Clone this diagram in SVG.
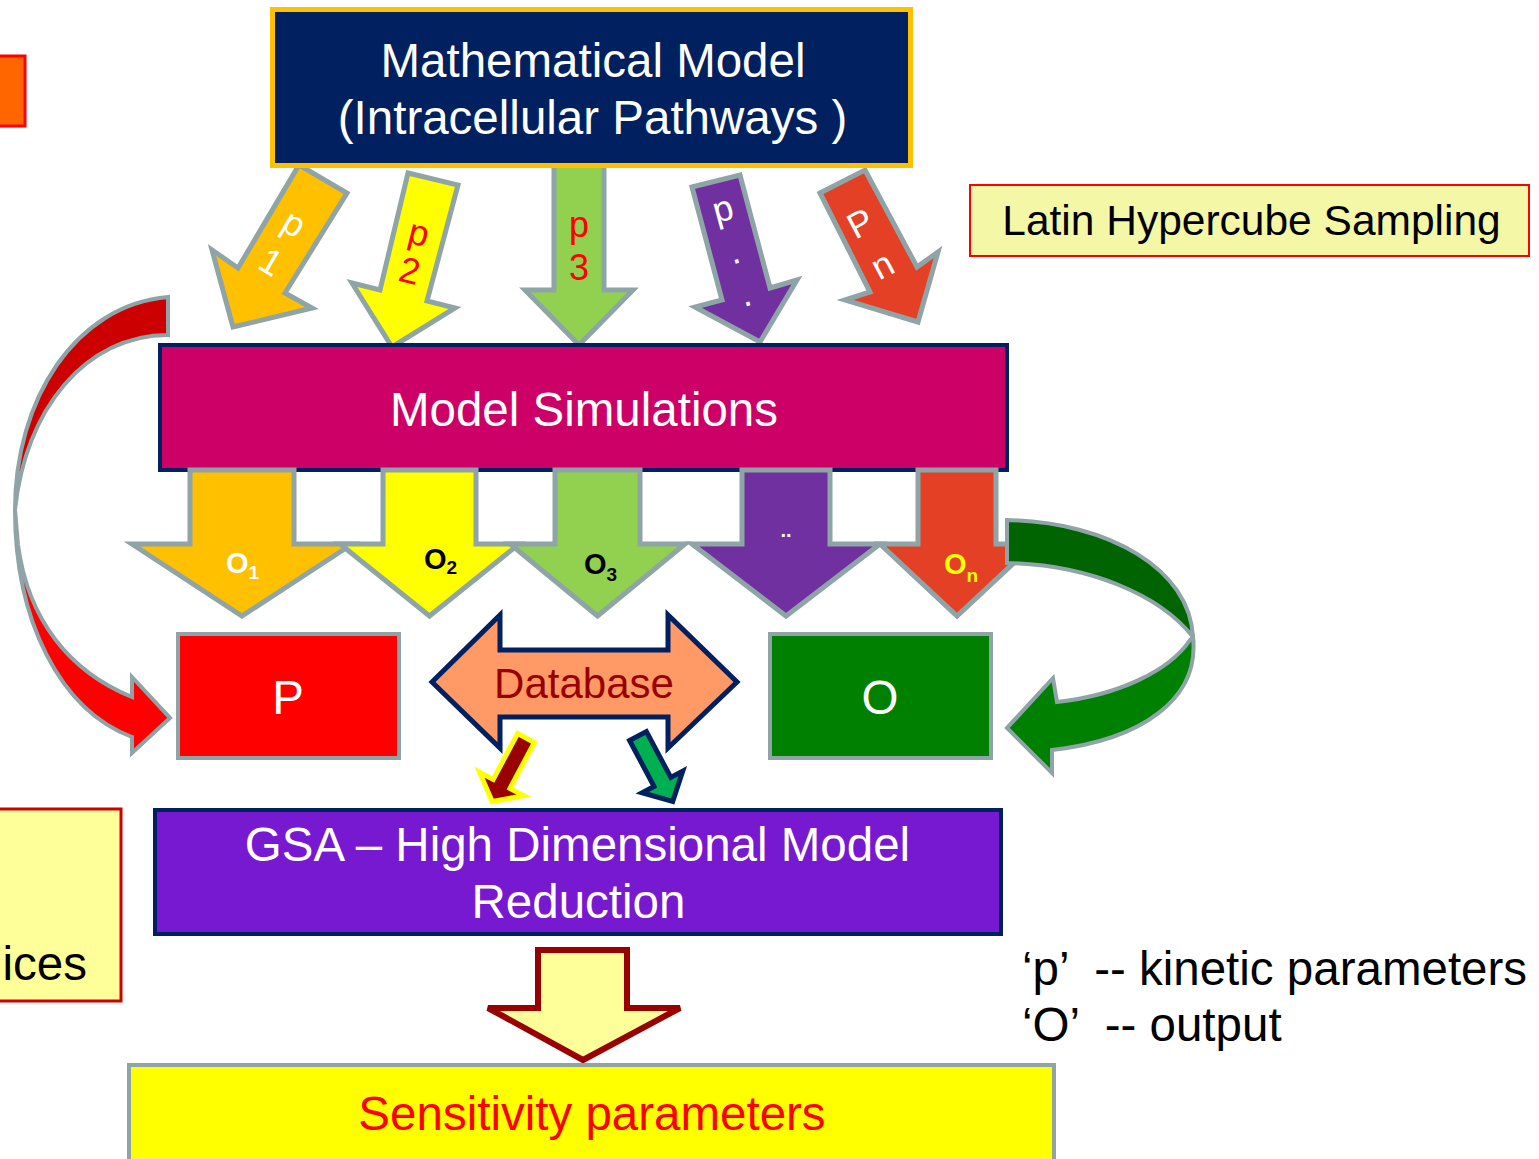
<svg xmlns="http://www.w3.org/2000/svg" width="1539" height="1159" viewBox="0 0 1539 1159">
<style>
text{font-family:"Liberation Sans",Arial,sans-serif}
.big{font-size:47.5px}
.lbl{font-size:36px}
.ol{font-size:29px;font-weight:bold}
.gs{stroke:#8EA4A6;stroke-width:5;stroke-linejoin:miter}
.gs4{stroke:#8EA4A6;stroke-width:4}
.nv{stroke:#002060;stroke-width:4}
</style>
<rect width="1539" height="1159" fill="#fff"/>

<g id="connectors">
  <polygon id="arrow-p1" class="gs" fill="#FFC000" points="299,165 347,193 285,293 312,308 233,327 212,250 238,268"/>
  <polygon id="arrow-p2" class="gs" fill="#FFFF00" points="408,173 458,185 427,301 455,308 392,347 352,283 380,290"/>
  <polygon id="arrow-p3" class="gs" fill="#92D050" points="554,165 604,165 604,290 633,290 579,345 525,290 554,290"/>
  <polygon id="arrow-pdots" class="gs" fill="#7030A0" points="692,187 740,175 770,288 797,280 760,342 695,307 722,300"/>
  <polygon id="arrow-pn" class="gs" fill="#E34026" points="820,193 865,170 917,267 938,252 918,322 845,300 870,292"/>
</g>

<g id="node-math-model">
  <rect x="272.5" y="9.5" width="638" height="156" fill="#002060" stroke="#FFC000" stroke-width="5"/>
  <text class="big" x="593" y="77" text-anchor="middle" fill="#fff">Mathematical Model</text>
  <text class="big" x="592.5" y="134" text-anchor="middle" fill="#fff">(Intracellular Pathways )</text>
</g>

<g id="labels-inputs">
  <text class="lbl" fill="#fff" text-anchor="middle" transform="translate(292,227) rotate(31)"><tspan x="0" y="8">p</tspan><tspan x="0" y="53">1</tspan></text>
  <text class="lbl" fill="#FF0000" text-anchor="middle" transform="translate(418,237) rotate(14)"><tspan x="0" y="8">p</tspan><tspan x="0" y="47">2</tspan></text>
  <text class="lbl" fill="#FF0000" text-anchor="middle"><tspan x="579" y="237">p</tspan><tspan x="579" y="280">3</tspan></text>
  <text class="lbl" fill="#fff" text-anchor="middle" transform="translate(723,210) rotate(-15)"><tspan x="0" y="11">p</tspan><tspan x="0" y="55">.</tspan><tspan x="0" y="99">.</tspan></text>
  <text class="lbl" fill="#fff" text-anchor="middle" transform="translate(860,223) rotate(-28)"><tspan x="0" y="13">P</tspan><tspan x="0" y="60">n</tspan></text>
</g>

<g id="node-latin">
  <rect x="970" y="185" width="559" height="71" fill="#F4F7A6" stroke="#FF0000" stroke-width="2"/>
  <text x="1251.5" y="235" font-size="42.5" text-anchor="middle" fill="#000">Latin Hypercube Sampling</text>
</g>

<g id="node-left-orange">
  <rect x="-5" y="56" width="30" height="70" fill="#FF6600" stroke="#FF0000" stroke-width="3"/>
</g>

<g id="node-model-sim">
  <rect x="160" y="345" width="847" height="125" fill="#CC0066" class="nv"/>
  <text class="big" x="584" y="426" text-anchor="middle" fill="#fff">Model Simulations</text>
</g>

<g id="connectors-outputs">
  <polygon id="arrow-o1" class="gs" fill="#FFC000" points="190,470 294,470 294,544 352,544 242,616 132,544 190,544"/>
  <polygon id="arrow-o2" class="gs" fill="#FFFF00" points="383,470 476,470 476,544 519,544 429.5,616 340,544 383,544"/>
  <polygon id="arrow-o3" class="gs" fill="#92D050" points="555,470 640,470 640,544 685,544 597.5,616 510,544 555,544"/>
  <polygon id="arrow-odots" class="gs" fill="#7030A0" points="742,470 830,470 830,544 880,544 786,616 692,544 742,544"/>
  <polygon id="arrow-on" class="gs" fill="#E34026" points="918,470 996,470 996,544 1034,544 957,616 880,544 918,544"/>
  <text class="ol" x="226" y="573" fill="#fff">O<tspan font-size="19" dy="6">1</tspan></text>
  <text class="ol" x="424" y="569" fill="#000">O<tspan font-size="19" dy="5">2</tspan></text>
  <text class="ol" x="584" y="574" fill="#000">O<tspan font-size="19" dy="7">3</tspan></text>
  <text x="786" y="537" font-size="20" font-weight="bold" text-anchor="middle" fill="#fff">..</text>
  <text class="ol" x="944" y="574" fill="#FFFF00">O<tspan font-size="19" dy="8">n</tspan></text>
</g>

<g id="connectors-curved">
  <path id="curve-left-back" class="gs4" fill="#CC0000" d="M168,297 C75,305 15,400 15,510 C25,410 85,335 168,335 Z"/>
  <path id="curve-left-front" class="gs4" fill="#FF0000" d="M15,510 C15,620 60,710 132,737 L132,753 L170,718 L132,677 L132,697 C70,672 28,620 18,545 Z"/>
  <path id="curve-right-back" class="gs4" fill="#006400" d="M1007,520 C1110,522 1190,570 1193,637 C1160,595 1090,565 1007,563 Z"/>
  <path id="curve-right-front" class="gs4" fill="#008000" d="M1193,637 C1200,700 1140,740 1052,750 L1052,773 L1007,728 L1053,678 L1057,702 C1120,695 1170,670 1190,640 Z"/>
</g>

<g id="node-p">
  <rect x="178" y="634" width="221" height="124" fill="#FF0000" class="gs4"/>
  <text class="big" x="288" y="714" text-anchor="middle" fill="#fff">P</text>
</g>

<g id="node-o">
  <rect x="770" y="634" width="221" height="124" fill="#008000" class="gs4"/>
  <text class="big" x="880" y="714" text-anchor="middle" fill="#fff">O</text>
</g>

<g id="node-database">
  <polygon points="432,682 500,615 500,650 668,650 668,615 737,682 668,748 668,717 500,717 500,748" fill="#FF9966" stroke="#002060" stroke-width="5"/>
  <text x="584" y="698" font-size="42" text-anchor="middle" fill="#990000">Database</text>
</g>

<g id="connectors-db">
  <polygon transform="translate(526,738) rotate(28)" points="-9.5,0 9.5,0 9.5,52 25,52 0,72 -25,52 -9.5,52" fill="#990000" stroke="#FFFF00" stroke-width="5"/>
  <polygon transform="translate(638,736) rotate(-28)" points="-9.5,0 9.5,0 9.5,52 23,52 0,74 -23,52 -9.5,52" fill="#00B050" stroke="#002060" stroke-width="5"/>
</g>

<g id="node-gsa">
  <rect x="155" y="810" width="846" height="124" fill="#7719D0" class="nv"/>
  <text class="big" x="577.5" y="861" text-anchor="middle" fill="#fff">GSA – High Dimensional Model</text>
  <text class="big" x="578.5" y="918" text-anchor="middle" fill="#fff">Reduction</text>
</g>

<g id="node-left-yellow">
  <rect x="-5" y="809" width="126" height="192" fill="#FFFF99" stroke="#CC0000" stroke-width="3"/>
  <text class="big" x="87" y="980" text-anchor="end" fill="#000">ices</text>
</g>

<g id="connector-result">
  <polygon points="538,950 627,950 627,1008 680,1008 583,1060 488,1008 538,1008" fill="#FFFF99" stroke="#990000" stroke-width="6"/>
</g>

<g id="node-sensitivity">
  <rect x="129" y="1065" width="925" height="110" fill="#FFFF00" class="gs4"/>
  <text class="big" x="592" y="1130" text-anchor="middle" fill="#FF0000">Sensitivity parameters</text>
</g>

<g id="legend">
  <text class="big" x="1022" y="985" fill="#000" xml:space="preserve">‘p’  -- kinetic parameters</text>
  <text class="big" x="1022" y="1041" fill="#000" xml:space="preserve">‘O’  -- output</text>
</g>
</svg>
